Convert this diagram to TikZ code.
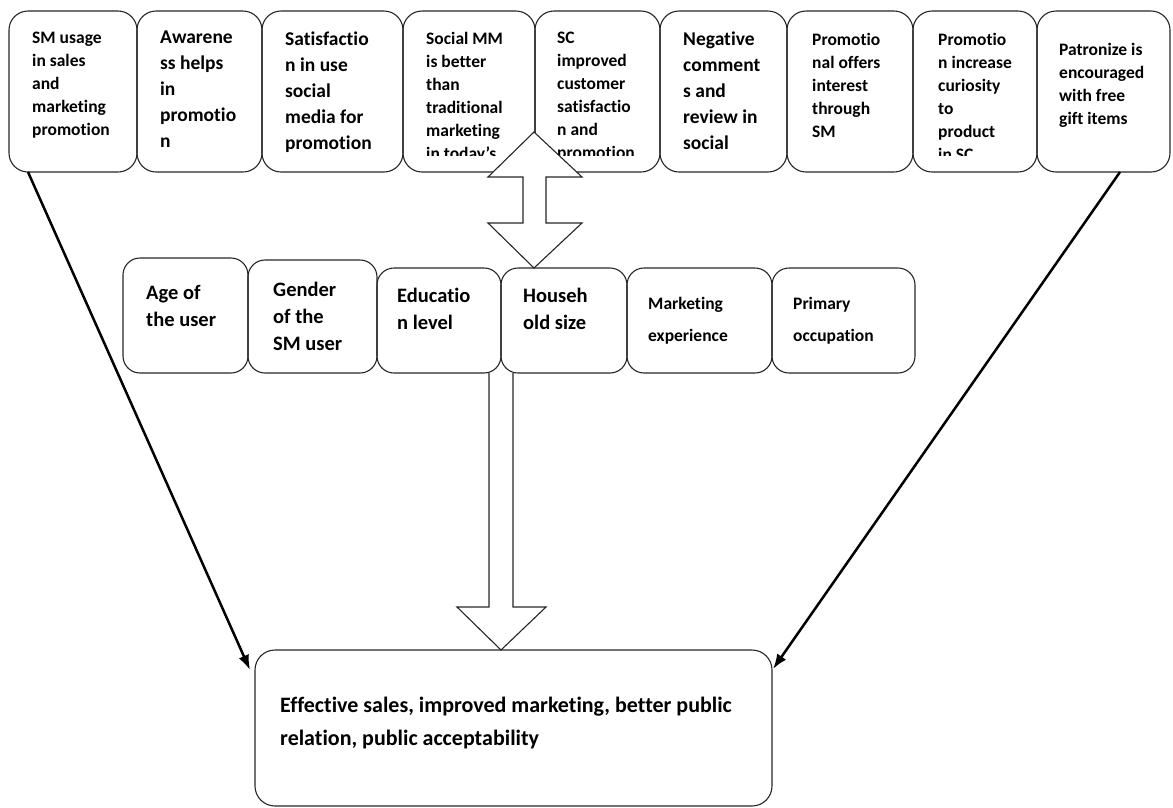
\documentclass[tikz,border=0pt]{standalone}
\usepackage{fontspec}
\setmainfont{Carlito}[Ligatures=NoCommon]
\usetikzlibrary{positioning,arrows.meta}

\tikzset{
  factor/.style={draw=black!85, line width=1.1pt, rounded corners=19pt, inner sep=0pt, outer sep=0pt, minimum height=161pt},
  attr/.style={draw=black!85, line width=1.1pt, rounded corners=17pt, inner sep=0pt, outer sep=0pt, anchor=south west},
  txt/.style={anchor=north west, inner sep=0pt, align=left, font=\bfseries\fontsize{17.5}{23}\selectfont},
  bigtxt/.style={txt, font=\bfseries\fontsize{19.5}{26}\selectfont},
  midtxt/.style={txt, font=\bfseries\fontsize{20.5}{27}\selectfont},
  smalltxt/.style={txt, font=\bfseries\fontsize{17.5}{32}\selectfont},
  hollow/.style={draw=black!85, line width=1.1pt, fill=white},
  link/.style={line width=2.5pt, -{Latex[length=15pt,width=11pt]}}
}

\begin{document}
\begin{tikzpicture}[x=1pt,y=-1pt]
  \useasboundingbox (0,0) rectangle (1173,807);

  % factors
  \node[factor, minimum width=128pt, anchor=north west] (sm) at (9,11) {};
  \node[factor, minimum width=125pt, right=0pt of sm] (aware) {};
  \node[factor, minimum width=141pt, right=0pt of aware] (satis) {};
  \node[factor, minimum width=132pt, right=0pt of satis] (smm) {};
  \node[factor, minimum width=125pt, right=0pt of smm] (sci) {};
  \node[factor, minimum width=127pt, right=0pt of sci] (neg) {};
  \node[factor, minimum width=126pt, right=0pt of neg] (offer) {};
  \node[factor, minimum width=124pt, right=0pt of offer] (curio) {};
  \node[factor, minimum width=133pt, right=0pt of curio] (gift) {};

  \node[txt] (smt) at ([shift={(23,21)}]sm.north west) {SM usage\\in sales\\and\\marketing\\promotion};
  \node[bigtxt] (awaret) at ([shift={(23,20)}]aware.north west) {Awarene\\ss helps\\in\\promotio\\n};
  \node[bigtxt] (satist) at ([shift={(23,21)}]satis.north west) {Satisfactio\\n in use\\social\\media for\\promotion};
  \begin{scope}
    \clip (smm.north west) rectangle ([yshift=17pt]smm.south east);
    \node[txt] (smmt) at ([shift={(23,21)}]smm.north west) {Social MM\\is better\\than\\traditional\\marketing\\in today's};
  \end{scope}
  \begin{scope}
    \clip (sci.north west) rectangle ([yshift=17pt]sci.south east);
    \node[txt] (scit) at ([shift={(22,21)}]sci.north west) {SC\\improved\\customer\\satisfactio\\n and\\promotion};
  \end{scope}
  \node[bigtxt] (negt) at ([shift={(23,21)}]neg.north west) {Negative\\comment\\s and\\review in\\social};
  \node[txt] (offert) at ([shift={(25,22)}]offer.north west) {Promotio\\nal offers\\interest\\through\\SM};
  \begin{scope}
    \clip (curio.north west) rectangle ([yshift=17pt]curio.south east);
    \node[txt] (curiot) at ([shift={(25,22)}]curio.north west) {Promotio\\n increase\\curiosity\\to\\product\\in SC};
  \end{scope}
  \node[txt] (giftt) at ([shift={(22,32)}]gift.north west) {Patronize is\\encouraged\\with free\\gift items};

  % outcome
  \node[factor, rounded corners=20pt, minimum width=517pt, minimum height=156pt, anchor=north west] (out) at (255,650) {};
  \node[txt, font=\bfseries\fontsize{22}{33}\selectfont] (outt) at ([shift={(25,47)}]out.north west)
    {Effective sales, improved marketing, better public\\relation, public acceptability};

  \draw[link] ([xshift=19pt]sm.south west) -- ([shift={(-5,20)}]out.north west);
  \draw[link] ([xshift=-50pt]gift.south east) -- ([shift={(1,19)}]out.north east);

  % two-way arrow
  \coordinate (tip) at (534,132);
  \draw[hollow] (tip) -- ++(48,45) -- ++(-36,0) -- ++(0,46) -- ++(36,0) -- ++(-48,45)
    -- ++(-46,-45) -- ++(35,0) -- ++(0,-46) -- ++(-35,0) -- cycle;

  % socio-economic attributes
  \node[attr, minimum width=125pt, minimum height=115pt] (age) at (123,373) {};
  \node[attr, minimum width=129pt, minimum height=113pt] (gender) at (age.south east) {};
  \node[attr, minimum width=124pt, minimum height=105pt] (edu) at (gender.south east) {};
  \node[attr, minimum width=126pt, minimum height=105pt] (house) at (edu.south east) {};
  \node[attr, minimum width=145pt, minimum height=105pt] (mexp) at (house.south east) {};
  \node[attr, minimum width=143pt, minimum height=105pt] (occ) at (mexp.south east) {};

  \node[midtxt] (aget) at ([shift={(23,27)}]age.north west) {Age of\\the user};
  \node[midtxt] (gendert) at ([shift={(25,22)}]gender.north west) {Gender\\of the\\SM user};
  \node[midtxt] (edut) at ([shift={(20,20)}]edu.north west) {Educatio\\n level};
  \node[midtxt] (houset) at ([shift={(22,20)}]house.north west) {Househ\\old size};
  \node[smalltxt] (mexpt) at ([shift={(21,29)}]mexp.north west) {Marketing\\experience};
  \node[smalltxt] (occt) at ([shift={(21,29)}]occ.north west) {Primary\\occupation};

  % down arrow
  \coordinate (shaft) at ([xshift=-12pt]edu.south east);
  \draw[hollow] (shaft) -- ++(0,234) -- ++(-32,0) -- ++(44,43) -- ++(45,-43) -- ++(-33,0) -- ++(0,-234);
\end{tikzpicture}
\end{document}
